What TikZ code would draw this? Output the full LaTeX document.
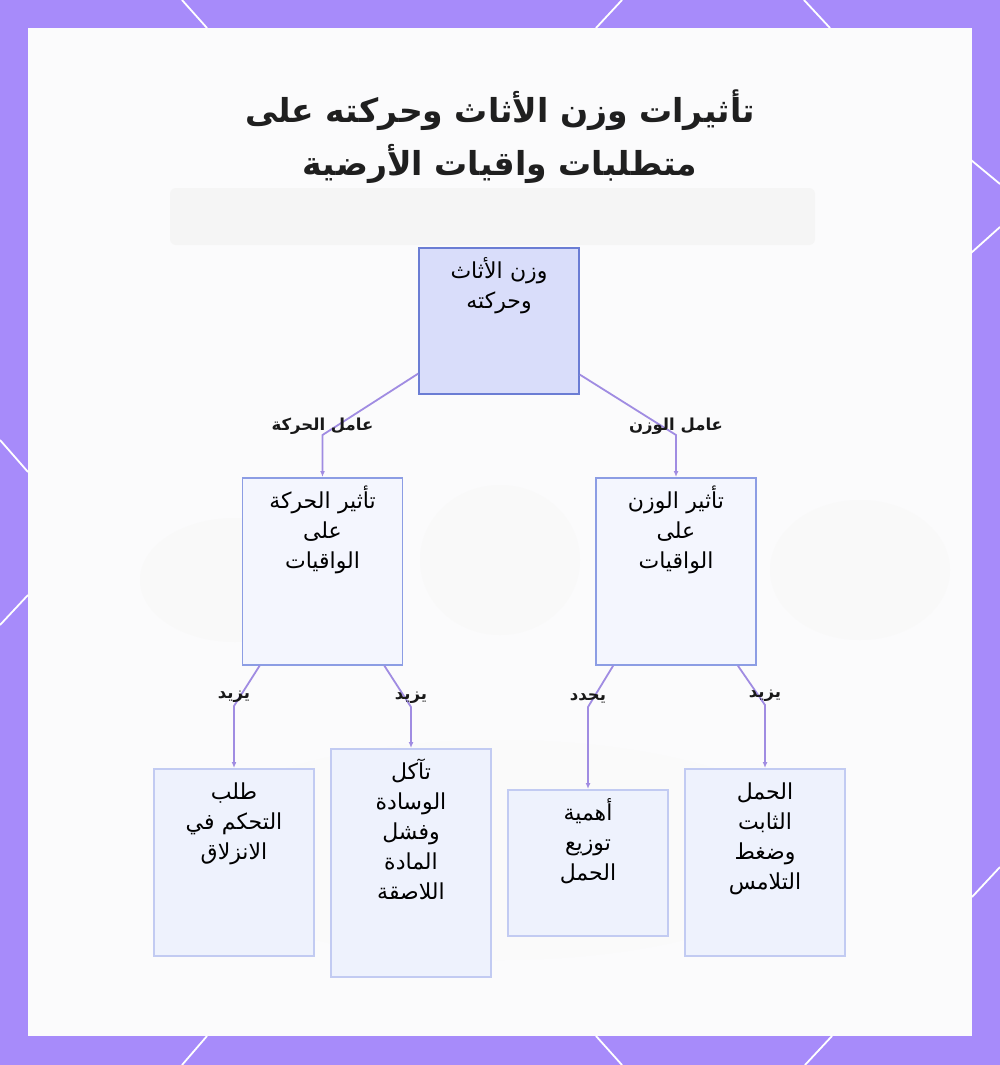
\documentclass[tikz,border=0pt]{standalone}
\usepackage{fontspec}
\usepackage{tikz}
\usetikzlibrary{arrows.meta}
\newfontfamily\arabicfont[Script=Arabic]{DejaVu Sans}
\TeXXeTstate=1
\newcommand{\artxt}[1]{\beginR #1\endR}
\definecolor{framecol}{HTML}{A78BFA}
\definecolor{panelcol}{HTML}{FBFBFC}
\definecolor{linkcol}{HTML}{A08CE2}
\definecolor{rootfill}{HTML}{D9DDFA}
\definecolor{rootdraw}{HTML}{6B7DD4}
\definecolor{midfill}{HTML}{F4F6FE}
\definecolor{middraw}{HTML}{8C9DE4}
\definecolor{leaffill}{HTML}{EEF2FD}
\definecolor{leafdraw}{HTML}{C2CBF2}
\tikzset{
  flow/.style={draw, line width=1.6pt, anchor=north, text width=160pt, align=center, inner sep=0pt,
    text height=31pt, font=\arabicfont\fontsize{22}{30}\selectfont},
  rootbox/.style={flow, fill=rootfill, draw=rootdraw},
  midbox/.style={flow, fill=midfill, draw=middraw},
  leafbox/.style={flow, fill=leaffill, draw=leafdraw},
  link/.style={draw=linkcol, line width=1.8pt, -{Latex[length=6pt,width=5pt]}},
  lbl/.style={font=\arabicfont\bfseries\fontsize{16.5}{18}\selectfont, text=black!90, inner sep=1pt},
  rim/.style={white, line width=1.8pt}
}
\begin{document}
\begin{tikzpicture}[x=1pt, y=-1pt]
\useasboundingbox (0,0) rectangle (1000,1065);
% frame and panel
\fill[framecol] (0,0) rectangle (1000,1065);
\fill[panelcol] (28,28) rectangle (972,1036);
\draw[rim] (182,0) -- (207,28);
\draw[rim] (622,0) -- (596,28);
\draw[rim] (804,0) -- (830,28);
\draw[rim] (182,1065) -- (207,1036);
\draw[rim] (622,1065) -- (596,1036);
\draw[rim] (805,1065) -- (832,1036);
\draw[rim] (0,440) -- (28,472);
\draw[rim] (0,625) -- (28,595);
\draw[rim] (971,160) -- (1000,184);
\draw[rim] (971,253) -- (1000,227);
\draw[rim] (972,897) -- (1000,867);
% faint backdrop
\fill[gray!8, rounded corners=6pt] (170,188) rectangle (815,245);
\fill[gray!5] (235,580) ellipse (95 and 62);
\fill[gray!5] (500,560) ellipse (80 and 75);
\fill[gray!5] (860,570) ellipse (90 and 70);
\fill[gray!4] (500,850) ellipse (320 and 110);
% title
\node[font=\arabicfont\bfseries\fontsize{33}{53}\selectfont, text=black!88, align=center] (title) at (500,137)
  {\artxt{تأثيرات وزن الأثاث وحركته على}\\\artxt{متطلبات واقيات الأرضية}};
% boxes
\node[rootbox, text depth=115pt] (root) at (499,247) {\artxt{وزن الأثاث}\\\artxt{وحركته}};
\node[midbox, text depth=156pt] (moveEff) at (322.5,477) {\artxt{تأثير الحركة}\\\artxt{على}\\\artxt{الواقيات}};
\node[midbox, text depth=156pt] (weightEff) at (676,477) {\artxt{تأثير الوزن}\\\artxt{على}\\\artxt{الواقيات}};
\node[leafbox, text depth=156pt] (slipCtl) at (234,768) {\artxt{طلب}\\\artxt{التحكم في}\\\artxt{الانزلاق}};
\node[leafbox, text depth=197pt] (padWear) at (411,748) {\artxt{تآكل}\\\artxt{الوسادة}\\\artxt{وفشل}\\\artxt{المادة}\\\artxt{اللاصقة}};
\node[leafbox, text depth=115pt] (loadSpread) at (588,789) {\artxt{أهمية}\\\artxt{توزيع}\\\artxt{الحمل}};
\node[leafbox, text depth=156pt] (staticLoad) at (765,768) {\artxt{الحمل}\\\artxt{الثابت}\\\artxt{وضغط}\\\artxt{التلامس}};
% connectors
\draw[link] ([yshift=21pt]root.south west) -- ([yshift=42pt]moveEff.north)
  node[lbl, yshift=9pt] {\artxt{عامل الحركة}} -- (moveEff.north);
\draw[link] ([yshift=20pt]root.south east) -- ([yshift=42pt]weightEff.north)
  node[lbl, yshift=9pt] {\artxt{عامل الوزن}} -- (weightEff.north);
\draw[link] ([xshift=18pt]moveEff.south west) -- ([yshift=62pt]slipCtl.north)
  node[lbl, yshift=9pt] {\artxt{يزيد}} -- (slipCtl.north);
\draw[link] ([xshift=-19pt]moveEff.south east) -- ([yshift=41pt]padWear.north)
  node[lbl, yshift=9pt] {\artxt{يزيد}} -- (padWear.north);
\draw[link] ([xshift=18pt]weightEff.south west) -- ([yshift=82pt]loadSpread.north)
  node[lbl, yshift=9pt] {\artxt{يحدد}} -- (loadSpread.north);
\draw[link] ([xshift=-19pt]weightEff.south east) -- ([yshift=63pt]staticLoad.north)
  node[lbl, yshift=9pt] {\artxt{يزيد}} -- (staticLoad.north);
\end{tikzpicture}
\end{document}
